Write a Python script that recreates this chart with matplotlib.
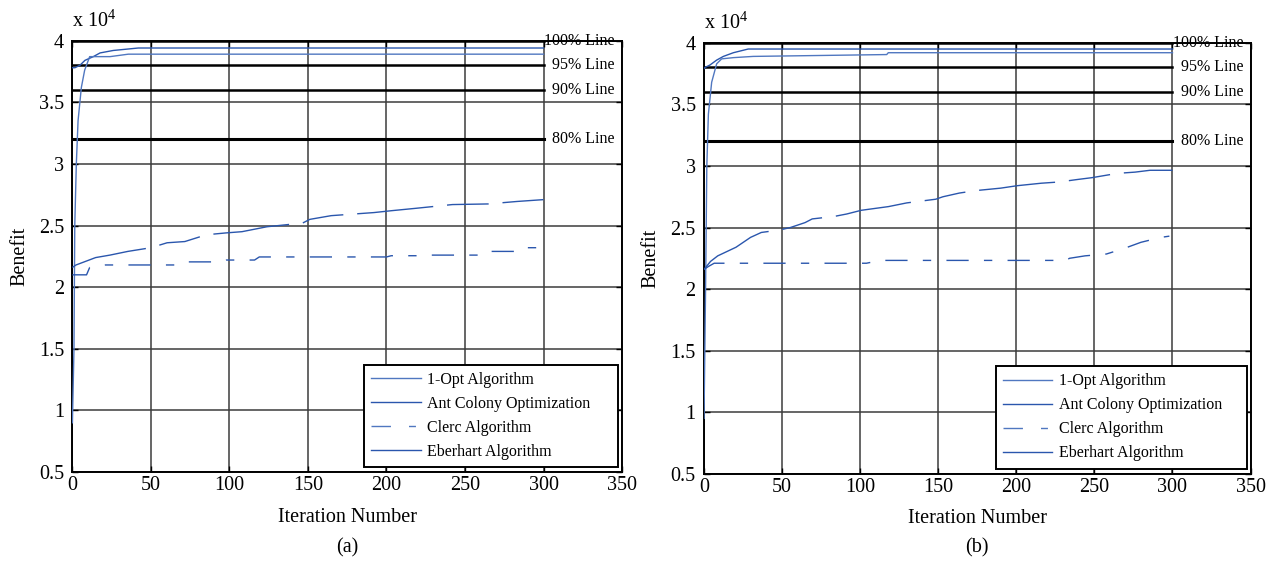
import matplotlib
matplotlib.use("Agg")
import matplotlib.pyplot as plt
from matplotlib.lines import Line2D
from matplotlib.ticker import FuncFormatter

plt.rcParams['font.family'] = ['Liberation Serif', 'DejaVu Serif']
plt.rcParams['mathtext.fontset'] = 'custom'
plt.rcParams['mathtext.rm'] = 'Liberation Serif'

# ---- data (benefit values) ----
# panel (a)
a_opt_x = [0, 1.6, 4.8, 8, 13.3, 17.6, 26, 42, 300]
a_opt_y = [37800, 37800, 38000, 38400, 38700, 39000, 39200, 39400, 39400]
a_aco_x = [0, 1, 1.5, 2.5, 3.6, 5.7, 7.8, 11, 24, 35.6, 300]
a_aco_y = [9000, 15000, 25000, 30000, 33500, 36200, 37600, 38700, 38700, 38900, 38900]
a_clerc_x = [0, 9, 11, 21, 70, 74, 95, 98, 116, 119, 200, 203, 225, 228, 262, 265, 287, 290, 300]
a_clerc_y = [21000, 21000, 21600, 21800, 21800, 22050, 22050, 22200, 22200, 22450,
             22450, 22550, 22550, 22600, 22600, 22900, 22900, 23200, 23200]
a_eber_x = [0, 2.3, 14.8, 23.9, 35.3, 50, 60.3, 71.6, 85.3, 97.8, 108, 123.9, 146.6,
            151.2, 164.8, 192, 203, 219, 242, 264.7, 283, 300]
a_eber_y = [21600, 21800, 22400, 22600, 22900, 23200, 23600, 23700, 24250, 24400, 24500,
            24900, 25200, 25500, 25800, 26050, 26200, 26400, 26700, 26750, 26950, 27100]

# panel (b)
b_opt_x = [0, 0.6, 3.8, 8.1, 12.4, 18.8, 28.3, 300]
b_opt_y = [37900, 38000, 38200, 38600, 38900, 39200, 39500, 39500]
b_aco_x = [0, 1, 1.8, 2.8, 4.9, 8.1, 11.3, 18.8, 31.5, 117, 118, 300]
b_aco_y = [9500, 20000, 30000, 34200, 36800, 38300, 38700, 38800, 38900, 39050, 39200, 39200]
b_clerc_x = [0, 3, 6.5, 104, 113, 232, 234, 244, 257.7, 269, 279.8, 292.6, 298]
b_clerc_y = [21600, 21850, 22100, 22100, 22330, 22330, 22500, 22700, 22850, 23300, 23800,
             24200, 24300]
b_eber_x = [0, 4.2, 8.8, 20.5, 29.8, 36.7, 48.4, 55.3, 64.7, 69.3, 83.3, 91.4, 100.7, 118.1,
            129.8, 148.4, 153, 163.5, 174, 190, 200.7, 216, 227.4, 239, 248.4, 264.7, 276,
            285.6, 300]
b_eber_y = [21600, 22250, 22700, 23400, 24200, 24600, 24800, 25000, 25400, 25700, 25900,
            26100, 26400, 26700, 27000, 27300, 27500, 27800, 28000, 28200, 28400, 28600,
            28700, 28900, 29050, 29400, 29500, 29650, 29650]

best_benefit = 40000
pct_levels = [1.0, 0.95, 0.9, 0.8]
pct_labels = ['100% Line', '95% Line', '90% Line', '80% Line']
pct_end = 300

legend_labels = ['1-Opt Algorithm', 'Ant Colony Optimization', 'Clerc Algorithm',
                 'Eberhart Algorithm']

blue_dark = '#2a56ad'
blue_light = '#5077c0'
clerc_dash = (0, (16, 11, 6, 11))
eber_dash = (0, (55, 10, 30, 10))

fig = plt.figure(figsize=(12.77, 5.64), dpi=100)
ax_a = fig.add_axes([0.0567, 0.163, 0.4304, 0.765])
ax_b = fig.add_axes([0.5513, 0.160, 0.428, 0.764])

panels = [
    (ax_a, a_opt_x, a_opt_y, a_aco_x, a_aco_y, a_clerc_x, a_clerc_y, a_eber_x, a_eber_y, '(a)'),
    (ax_b, b_opt_x, b_opt_y, b_aco_x, b_aco_y, b_clerc_x, b_clerc_y, b_eber_x, b_eber_y, '(b)'),
]

for ax, ox, oy, acx, acy, cx, cy, ex, ey, tag in panels:
    ax.set_xlim(0, 350)
    ax.set_ylim(5000, 40000)
    ax.set_xticks(range(0, 351, 50))
    ax.set_yticks(range(5000, 40001, 5000))
    ax.yaxis.set_major_formatter(FuncFormatter(lambda v, p: f"{v / 1e4:g}"))
    ax.grid(True, color='#3c3c3c', lw=1.1)
    ax.set_axisbelow(True)
    ax.tick_params(direction='in', length=4, labelsize=14.5, top=True, right=True,
                   width=1.0, pad=3)
    ax.tick_params(axis='y', pad=6)
    for s in ax.spines.values():
        s.set_linewidth(1.4)
        s.set_color('black')

    # percentage reference lines
    for lv, lab in zip(pct_levels, pct_labels):
        yv = best_benefit * lv
        ax.plot([0, pct_end], [yv, yv], color='black',
                lw=2.2 if lv == 0.8 else 1.8, zorder=3)
        ax.text(345.5, yv, lab, fontsize=11.5, va='center', ha='right',
                clip_on=False, zorder=4)

    ax.plot(ox, oy, color=blue_dark, lw=1.0, zorder=5)
    ax.plot(acx, acy, color=blue_light, lw=1.0, zorder=5)
    ax.plot(cx, cy, color=blue_dark, lw=1.0, ls=clerc_dash, zorder=5)
    ax.plot(ex, ey, color=blue_dark, lw=1.0, ls=eber_dash, zorder=5)

    ax.set_xlabel('Iteration Number', fontsize=14.5, labelpad=9)
    ax.set_ylabel('Benefit', fontsize=14.5, labelpad=7)
    ax.text(0.0, 1.02, r'x 10$^{4}$', transform=ax.transAxes, fontsize=14.5,
            ha='left', va='bottom')

    handles = [Line2D([], [], color=blue_light, lw=1.0),
               Line2D([], [], color=blue_dark, lw=1.0),
               Line2D([], [], color=blue_light, lw=1.0, ls=(0, (14, 13, 5, 13))),
               Line2D([], [], color=blue_dark, lw=1.0)]
    w_px = 254 if tag == '(a)' else 251
    w_frac = w_px / (ax.get_position().width * 1277)
    leg = ax.legend(handles, legend_labels, loc='lower left', mode='expand',
                    bbox_to_anchor=(0.993 - w_frac, 0.012, w_frac, 0.2),
                    fontsize=11.5, frameon=True,
                    fancybox=False, framealpha=1, edgecolor='black',
                    handlelength=3.1, handletextpad=0.4, labelspacing=0.5,
                    borderpad=0.45, borderaxespad=0)
    leg.get_frame().set_linewidth(1.4)
    leg.set_zorder(6)

    pos = ax.get_position()
    fig.text(pos.x0 + pos.width / 2, 0.028, tag, fontsize=14.5, ha='center', va='center')

fig.savefig('out.png', dpi=100)
